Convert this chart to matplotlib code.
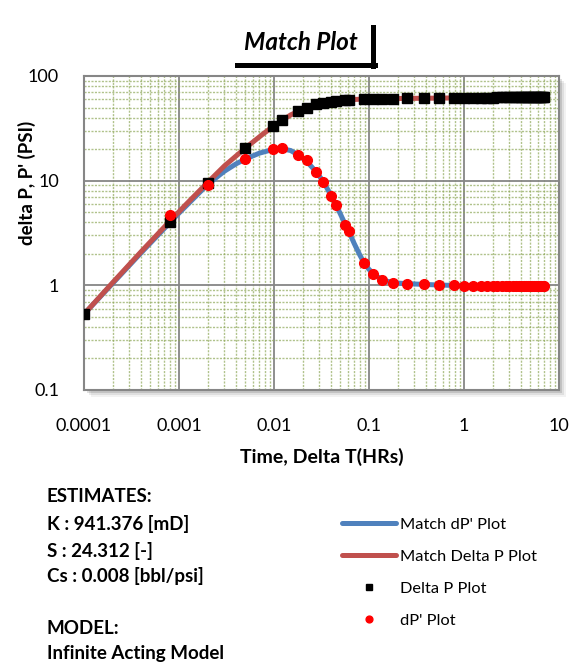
import matplotlib
matplotlib.use("Agg")
import matplotlib.pyplot as plt
from matplotlib.patches import Rectangle
from matplotlib.lines import Line2D

plt.rcParams['font.family'] = ['Lato', 'DejaVu Sans']

# measured points (hours, psi)
t_delta_p = [0.0001, 0.0008, 0.002, 0.005, 0.0098, 0.012, 0.018, 0.022, 0.028,
             0.033, 0.040, 0.045, 0.056, 0.061, 0.088, 0.11, 0.136, 0.18, 0.25,
             0.38, 0.55, 0.78, 1.0, 1.25, 1.5, 1.75, 2.0, 2.25, 2.5, 2.75, 3.0,
             3.25, 3.5, 3.75, 4.0, 4.25, 4.5, 4.75, 5.0, 5.25, 5.5, 5.75, 6.0,
             6.25, 6.5, 6.75, 7.0]
delta_p = [0.53, 4.06, 9.6, 20.3, 33.5, 37.9, 46.2, 49.1, 53.5,
           55.2, 56.8, 57.6, 58.9, 59.3, 60.2, 60.5, 60.7, 60.9, 61.1,
           61.3, 61.5, 61.7, 61.9, 62.0, 62.1, 62.2, 62.3, 62.35, 62.4, 62.45, 62.5,
           62.55, 62.6, 62.65, 62.7, 62.75, 62.8, 62.85, 62.9, 62.9, 62.95, 63.0, 63.0,
           63.05, 63.1, 63.1, 63.15]

t_deriv = [0.0008, 0.002, 0.005, 0.0098, 0.012, 0.018, 0.022, 0.028,
           0.033, 0.040, 0.045, 0.056, 0.061, 0.088, 0.11, 0.136, 0.18, 0.25,
           0.38, 0.55, 0.78, 1.0, 1.25, 1.5, 1.75, 2.0, 2.25, 2.5, 2.75, 3.0,
           3.25, 3.5, 3.75, 4.0, 4.25, 4.5, 4.75, 5.0, 5.25, 5.5, 5.75, 6.0,
           6.25, 6.5, 6.75, 7.0]
deriv = [4.69, 9.16, 16.0, 20.2, 20.3, 17.4, 15.6, 12.2,
         9.78, 7.19, 5.85, 3.80, 3.30, 1.62, 1.27, 1.12, 1.05, 1.04,
         1.03, 1.01, 1.00, 0.99, 0.985, 0.98, 0.98, 0.98, 0.98, 0.98, 0.98, 0.98,
         0.98, 0.98, 0.98, 0.98, 0.98, 0.98, 0.98, 0.98, 0.98, 0.98, 0.98, 0.98,
         0.98, 0.98, 0.98, 0.98]

# type-curve match
t_match_p = [0.0001, 0.0002, 0.0004, 0.0008, 0.0012, 0.002, 0.003, 0.005, 0.0075,
             0.01, 0.015, 0.02, 0.03, 0.04, 0.06, 0.08, 0.1, 0.2, 0.5, 1, 2, 4, 7]
match_p = [0.53, 1.06, 2.1, 4.1, 6.0, 9.6, 13.8, 20.5, 27.5,
           33.5, 42.5, 48.0, 54.2, 56.9, 59.2, 60.0, 60.4, 60.95, 61.45, 61.9, 62.3, 62.7, 63.0]

t_match_d = [0.0001, 0.0004, 0.001, 0.002, 0.003, 0.004, 0.005, 0.007, 0.01, 0.012,
             0.015, 0.018, 0.022, 0.028, 0.033, 0.04, 0.045, 0.05, 0.056, 0.061, 0.07,
             0.08, 0.09, 0.1, 0.12, 0.15, 0.2, 0.3, 0.5, 1, 2, 7]
match_d = [0.53, 2.05, 4.9, 9.2, 12.3, 14.5, 16.1, 18.3, 20.0, 20.2,
           19.4, 17.6, 15.3, 12.1, 9.8, 7.2, 5.85, 4.8, 3.85, 3.3, 2.5,
           1.95, 1.6, 1.42, 1.22, 1.1, 1.05, 1.03, 1.01, 0.99, 0.985, 0.98]

x_ticks = [0.0001, 0.001, 0.01, 0.1, 1, 10]
x_ticklabels = ["0.0001", "0.001", "0.01", "0.1", "1", "10"]
y_ticks = [0.1, 1, 10, 100]
y_ticklabels = ["0.1", "1", "10", "100"]

estimates = ["ESTIMATES:", "K : 941.376 [mD]", "S : 24.312 [-]", "Cs : 0.008 [bbl/psi]"]
model = ["MODEL:", "Infinite Acting Model"]

W, H = 583, 670
fig = plt.figure(figsize=(W / 100, H / 100), dpi=100)

# plot area in pixels: left 84, right 559, top 76, bottom 390
ax = fig.add_axes([84 / W, 1 - 390 / H, 475 / W, 314 / H])
ax.set_zorder(2)
ax.set_facecolor('white')

# soft shadow behind the plot area
for off, a in [(7, 0.05), (5, 0.08), (3, 0.12)]:
    fig.patches.append(Rectangle(((84 + off) / W, 1 - (390 + off) / H), 475 / W, 314 / H,
                                 transform=fig.transFigure, facecolor='black',
                                 edgecolor='none', alpha=a, zorder=0))

ax.plot(t_match_d, match_d, color='#4F81BD', lw=3.6, solid_capstyle='round', zorder=3,
        label="Match dP' Plot")
ax.plot(t_match_p, match_p, color='#C0504D', lw=3.6, solid_capstyle='round', zorder=4,
        label="Match Delta P Plot")
ax.plot(t_delta_p, delta_p, ls='none', marker='s', ms=7, color='black', zorder=5,
        label="Delta P Plot")
ax.plot(t_deriv, deriv, ls='none', marker='o', ms=7, color='#FF0000', zorder=6,
        label="dP' Plot")

ax.set_xscale('log')
ax.set_yscale('log')
ax.set_xlim(0.0001, 10)
ax.set_ylim(0.1, 100)
ax.set_xticks(x_ticks, x_ticklabels)
ax.set_yticks(y_ticks, y_ticklabels)
ax.tick_params(which='both', length=0, labelsize=13, colors='black')
ax.tick_params(axis='x', pad=20)
ax.tick_params(axis='y', pad=18)

ax.grid(which='minor', color='#8FA85A', lw=1.0, ls=(0, (1.5, 1)), alpha=0.7, zorder=1)
ax.grid(which='major', color='#868686', lw=1.3, zorder=2)
ax.set_axisbelow(True)
for s in ax.spines.values():
    s.set_color('#868686')
    s.set_linewidth(1.5)

ax.set_xlabel("Time, Delta T(HRs)", fontsize=14, fontweight='bold', labelpad=10)
ax.set_ylabel("delta P, P' (PSI)", fontsize=13.5, fontweight='bold', labelpad=0)
ax.yaxis.set_label_coords((36 - 84) / 475, (390 - 183) / 314)

# title with Excel-style underline bar
fig.text(301 / W, 1 - 43 / H, "Match Plot", fontsize=17.5, fontweight='bold',
         fontstyle='italic', ha='center', va='center')
fig.add_artist(Line2D([237 / W, 375 / W], [1 - 64.5 / H, 1 - 64.5 / H], color='black',
                      lw=3.6, transform=fig.transFigure))
fig.add_artist(Line2D([372.5 / W, 372.5 / W], [1 - 27 / H, 1 - 66 / H], color='black',
                      lw=3.6, transform=fig.transFigure))

# estimates block
for txt, yy in zip(estimates + model, [497, 524, 551, 576, 629, 653]):
    fig.text(47 / W, 1 - yy / H, txt, fontsize=13.5, fontweight='bold', va='center', ha='left')

fig.legend(loc='upper left', bbox_to_anchor=(334 / W, 1 - 509 / H), frameon=False,
           fontsize=11.8, handlelength=3.3, handletextpad=0.25, labelspacing=1.07,
           borderpad=0, markerscale=0.7)

fig.savefig("out.png", dpi=100)
